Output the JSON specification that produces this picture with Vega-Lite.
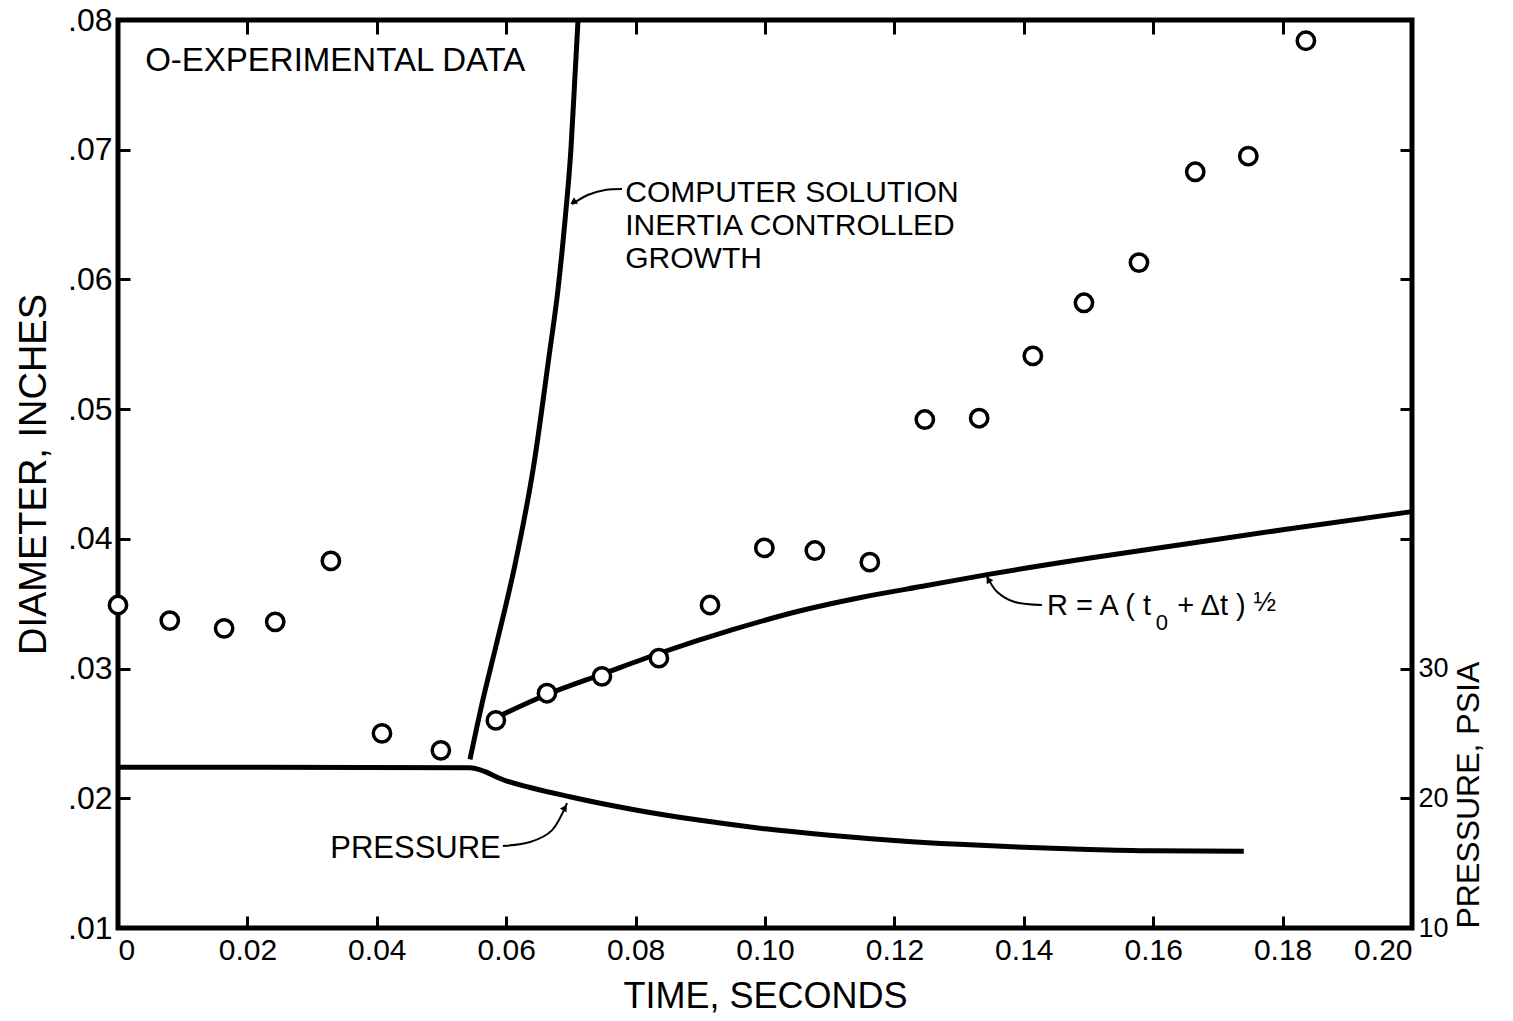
{
  "$schema": "https://vega.github.io/schema/vega-lite/v6.json",
  "width": 1294,
  "height": 908,
  "autosize": "none",
  "padding": {"left": 118, "top": 20, "right": 101, "bottom": 93},
  "background": "white",
  "config": {
    "font": "Liberation Sans",
    "view": {"stroke": "black", "strokeWidth": 5},
    "axis": {
      "domain": false,
      "grid": false,
      "tickColor": "black",
      "tickWidth": 3,
      "labelColor": "black",
      "titleColor": "black",
      "labelFont": "Liberation Sans",
      "titleFont": "Liberation Sans",
      "titleFontWeight": "normal"
    }
  },
  "datasets": {
    "experimental": [
      {"t": 0.0, "d": 0.0349}, {"t": 0.0080, "d": 0.0337}, {"t": 0.0164, "d": 0.0331},
      {"t": 0.0243, "d": 0.0336}, {"t": 0.0329, "d": 0.0383}, {"t": 0.0408, "d": 0.0250},
      {"t": 0.0499, "d": 0.0237}, {"t": 0.0584, "d": 0.0260}, {"t": 0.0663, "d": 0.0281},
      {"t": 0.0748, "d": 0.0294}, {"t": 0.0836, "d": 0.0308}, {"t": 0.0915, "d": 0.0349},
      {"t": 0.0999, "d": 0.0393}, {"t": 0.1077, "d": 0.0391}, {"t": 0.1162, "d": 0.0382},
      {"t": 0.1247, "d": 0.0492}, {"t": 0.1331, "d": 0.0493}, {"t": 0.1414, "d": 0.0541},
      {"t": 0.1493, "d": 0.0582}, {"t": 0.1578, "d": 0.0613}, {"t": 0.1665, "d": 0.0683},
      {"t": 0.1747, "d": 0.0695}, {"t": 0.1836, "d": 0.0784}
    ],
    "computer": [
      {"t": 0.0544, "d": 0.0230}, {"t": 0.0564, "d": 0.0276}, {"t": 0.0584, "d": 0.0317},
      {"t": 0.0614, "d": 0.0381}, {"t": 0.0643, "d": 0.0458}, {"t": 0.0666, "d": 0.0540},
      {"t": 0.0680, "d": 0.0592}, {"t": 0.0691, "d": 0.0646}, {"t": 0.0700, "d": 0.0700},
      {"t": 0.0706, "d": 0.0754}, {"t": 0.0711, "d": 0.0800}
    ],
    "rcurve": [
      {"t": 0.0575, "d": 0.0260}, {"t": 0.0663, "d": 0.0280}, {"t": 0.0750, "d": 0.0296},
      {"t": 0.0838, "d": 0.0312}, {"t": 0.0950, "d": 0.0330}, {"t": 0.1050, "d": 0.0344},
      {"t": 0.1150, "d": 0.0355}, {"t": 0.1250, "d": 0.0364}, {"t": 0.1350, "d": 0.0373},
      {"t": 0.1500, "d": 0.0385}, {"t": 0.1650, "d": 0.0396}, {"t": 0.1800, "d": 0.0407},
      {"t": 0.2000, "d": 0.0421}
    ],
    "pressure": [
      {"t": 0.0, "psia": 22.4}, {"t": 0.0544, "psia": 22.35}, {"t": 0.0600, "psia": 21.35},
      {"t": 0.0700, "psia": 20.1}, {"t": 0.0800, "psia": 19.1}, {"t": 0.0900, "psia": 18.3},
      {"t": 0.1000, "psia": 17.65}, {"t": 0.1100, "psia": 17.15}, {"t": 0.1200, "psia": 16.75},
      {"t": 0.1300, "psia": 16.45}, {"t": 0.1400, "psia": 16.22}, {"t": 0.1500, "psia": 16.05},
      {"t": 0.1600, "psia": 15.95}, {"t": 0.1740, "psia": 15.92}
    ],
    "leaders": [
      {"leader": "computer", "i": 0, "t": 0.0779, "d": 0.06697},
      {"leader": "computer", "i": 1, "t": 0.0753, "d": 0.06689},
      {"leader": "computer", "i": 2, "t": 0.0726, "d": 0.06651},
      {"leader": "computer", "i": 3, "t": 0.0702, "d": 0.06581},
      {"leader": "r", "i": 0, "t": 0.1428, "d": 0.03490},
      {"leader": "r", "i": 1, "t": 0.1386, "d": 0.03513},
      {"leader": "r", "i": 2, "t": 0.1359, "d": 0.03590},
      {"leader": "r", "i": 3, "t": 0.1343, "d": 0.03713},
      {"leader": "pressure", "i": 0, "t": 0.0595, "d": 0.01632},
      {"leader": "pressure", "i": 1, "t": 0.0637, "d": 0.01663},
      {"leader": "pressure", "i": 2, "t": 0.0671, "d": 0.01755},
      {"leader": "pressure", "i": 3, "t": 0.0694, "d": 0.01963}
    ],
    "arrowheads": [
      {"t": 0.0705, "d": 0.06600, "angle": 238},
      {"t": 0.1346, "d": 0.03680, "angle": 327},
      {"t": 0.0690, "d": 0.01920, "angle": 32}
    ]
  },
  "layer": [
    {
      "layer": [
        {
          "data": {"name": "computer"},
          "mark": {"type": "line", "color": "black", "strokeWidth": 5, "interpolate": "monotone", "clip": true},
          "encoding": {
            "x": {"field": "t", "type": "quantitative", "scale": {"domain": [0, 0.2], "nice": false, "zero": false},
              "axis": {"orient": "bottom", "title": "TIME, SECONDS", "values": [0, 0.02, 0.04, 0.06, 0.08, 0.1, 0.12, 0.14, 0.16, 0.18, 0.2],
                "labelExpr": "datum.value == 0 ? '0' : format(datum.value, '.2f')",
                "tickSize": -12, "labelPadding": 19, "labelFontSize": 30, "titleFontSize": 36, "titlePadding": 14, "labelFlush": 6}},
            "y": {"field": "d", "type": "quantitative", "scale": {"domain": [0.01, 0.08], "nice": false, "zero": false},
              "axis": {"orient": "left", "title": "DIAMETER, INCHES", "values": [0.01, 0.02, 0.03, 0.04, 0.05, 0.06, 0.07, 0.08],
                "labelExpr": "replace(format(datum.value, '.2f'), '0.', '.')",
                "tickSize": -12, "labelPadding": 18, "labelFontSize": 32, "titleFontSize": 38, "titlePadding": 14, "labelFlush": false}}
          }
        },
        {
          "data": {"name": "rcurve"},
          "mark": {"type": "line", "color": "black", "strokeWidth": 5, "interpolate": "monotone"},
          "encoding": {
            "x": {"field": "t", "type": "quantitative"},
            "y": {"field": "d", "type": "quantitative"}
          }
        },
        {
          "data": {"name": "leaders"},
          "mark": {"type": "line", "color": "black", "strokeWidth": 2, "interpolate": "cardinal"},
          "encoding": {
            "x": {"field": "t", "type": "quantitative"},
            "y": {"field": "d", "type": "quantitative"},
            "detail": {"field": "leader"},
            "order": {"field": "i", "type": "ordinal"}
          }
        },
        {
          "data": {"name": "arrowheads"},
          "mark": {"type": "point", "shape": "triangle", "filled": true, "color": "black", "size": 60, "opacity": 1},
          "encoding": {
            "x": {"field": "t", "type": "quantitative"},
            "y": {"field": "d", "type": "quantitative"},
            "angle": {"field": "angle", "type": "quantitative", "scale": null}
          }
        },
        {
          "data": {"name": "experimental"},
          "mark": {"type": "point", "shape": "circle", "size": 300, "fill": "white", "stroke": "black", "strokeWidth": 3.5, "opacity": 1, "fillOpacity": 1},
          "encoding": {
            "x": {"field": "t", "type": "quantitative"},
            "y": {"field": "d", "type": "quantitative"}
          }
        },
        {
          "data": {"values": [{}]},
          "mark": {"type": "text", "text": "O-EXPERIMENTAL DATA", "align": "left", "baseline": "alphabetic", "fontSize": 33, "font": "Liberation Sans", "color": "black"},
          "encoding": {"x": {"datum": 0.0042}, "y": {"datum": 0.0761}}
        },
        {
          "data": {"values": [{}]},
          "mark": {"type": "text", "text": ["COMPUTER SOLUTION", "INERTIA CONTROLLED", "GROWTH"], "align": "left", "baseline": "alphabetic", "fontSize": 30, "lineHeight": 33, "font": "Liberation Sans", "color": "black"},
          "encoding": {"x": {"datum": 0.0784}, "y": {"datum": 0.0660}}
        },
        {
          "data": {"values": [{}]},
          "mark": {"type": "text", "text": "PRESSURE", "align": "left", "baseline": "alphabetic", "fontSize": 31, "font": "Liberation Sans", "color": "black"},
          "encoding": {"x": {"datum": 0.0328}, "y": {"datum": 0.0154}}
        },
        {
          "data": {"values": [{}]},
          "mark": {"type": "text", "text": "R = A ( t", "align": "left", "baseline": "alphabetic", "fontSize": 29, "font": "Liberation Sans", "color": "black"},
          "encoding": {"x": {"datum": 0.1436}, "y": {"datum": 0.03413}}
        },
        {
          "data": {"values": [{}]},
          "mark": {"type": "text", "text": "0", "align": "left", "baseline": "alphabetic", "fontSize": 22, "font": "Liberation Sans", "color": "black"},
          "encoding": {"x": {"datum": 0.1604}, "y": {"datum": 0.03297}}
        },
        {
          "data": {"values": [{}]},
          "mark": {"type": "text", "text": "+ Δt )", "align": "left", "baseline": "alphabetic", "fontSize": 29, "font": "Liberation Sans", "color": "black"},
          "encoding": {"x": {"datum": 0.1637}, "y": {"datum": 0.03413}}
        },
        {
          "data": {"values": [{}]},
          "mark": {"type": "text", "text": "½", "align": "left", "baseline": "alphabetic", "fontSize": 27, "font": "Liberation Sans", "color": "black"},
          "encoding": {"x": {"datum": 0.1755}, "y": {"datum": 0.03444}}
        }
      ]
    },
    {
      "data": {"name": "pressure"},
      "mark": {"type": "line", "color": "black", "strokeWidth": 5, "interpolate": "monotone"},
      "encoding": {
        "x": {"field": "t", "type": "quantitative",
          "axis": {"orient": "top", "title": null, "labels": false, "values": [0.02, 0.04, 0.06, 0.08, 0.1, 0.12, 0.14, 0.16, 0.18], "tickSize": -14}},
        "y": {"field": "psia", "type": "quantitative", "scale": {"domain": [10, 80], "nice": false, "zero": false},
          "axis": {"orient": "right", "title": "PRESSURE, PSIA", "values": [10, 20, 30, 40, 50, 60, 70, 80],
            "labelExpr": "datum.value <= 30 ? format(datum.value, 'd') : ''",
            "tickSize": -12, "labelPadding": 18, "labelFontSize": 27, "titleFontSize": 32, "titleAngle": 270,
            "titleAnchor": "start", "titlePadding": 37, "labelFlush": false}}
      }
    }
  ],
  "resolve": {"scale": {"y": "independent"}, "axis": {"x": "independent"}}
}
